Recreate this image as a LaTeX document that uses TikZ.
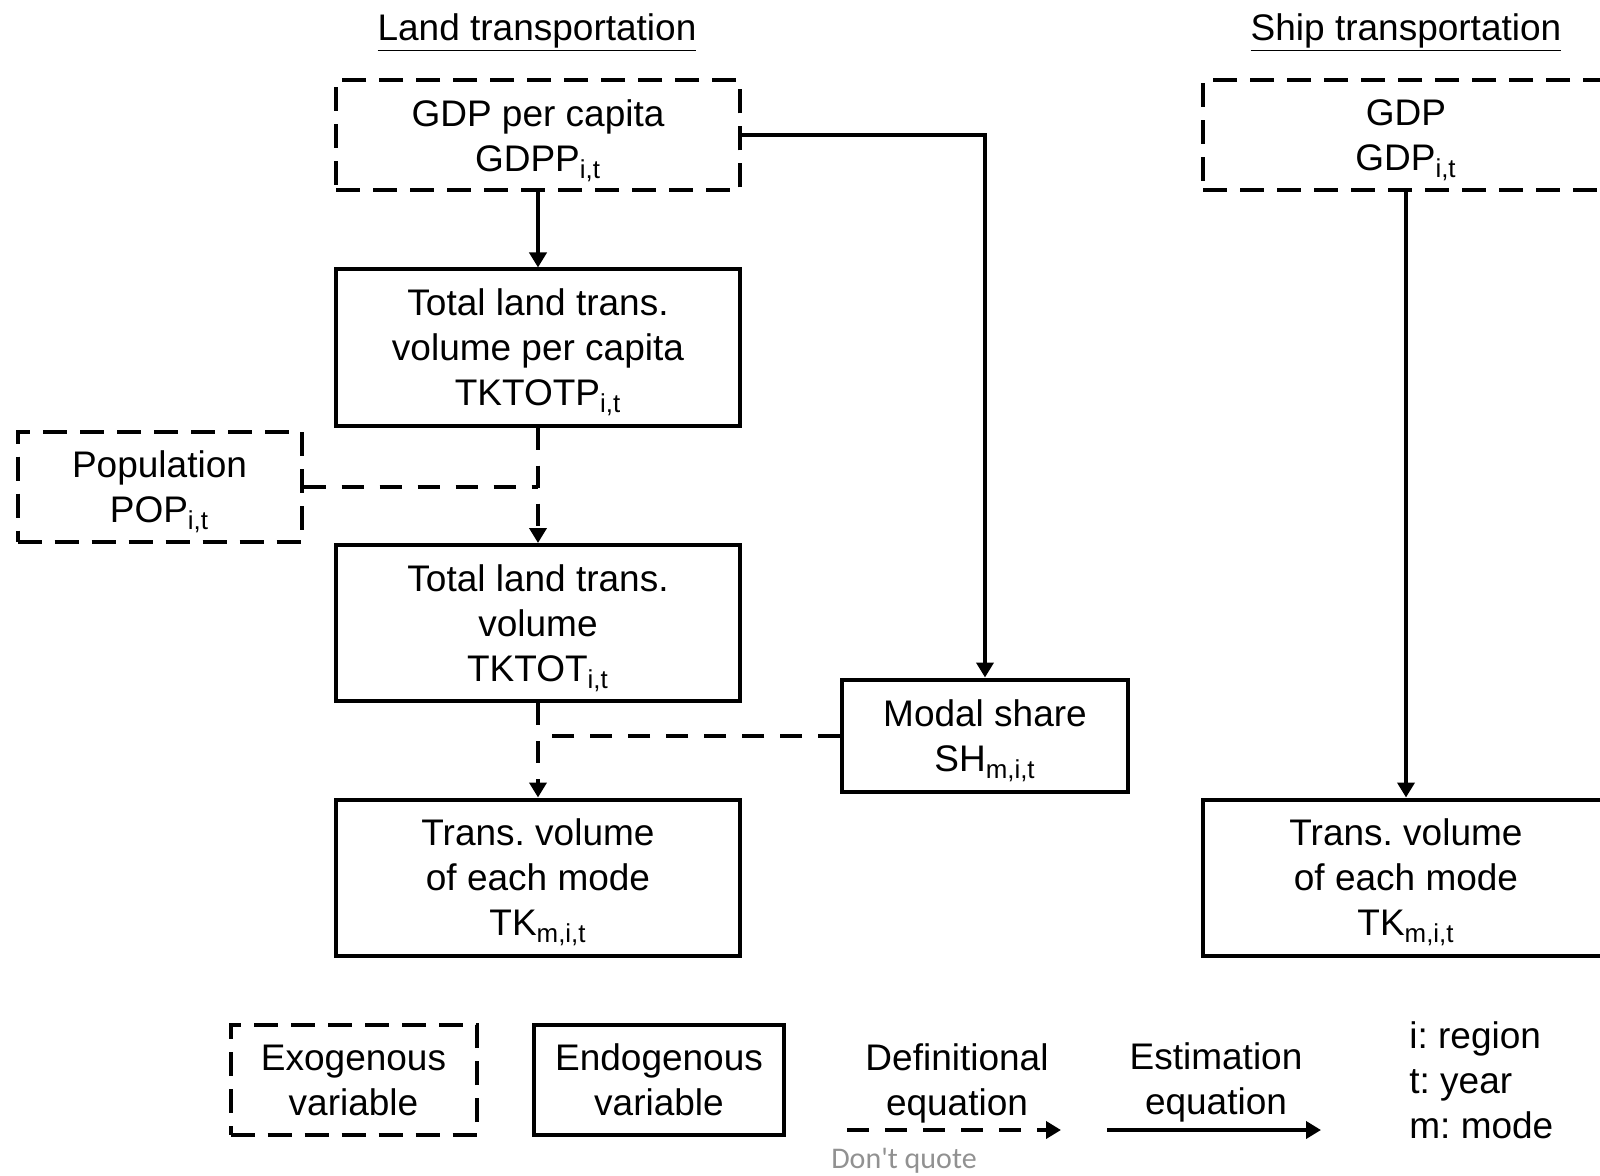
\documentclass[tikz,border=0pt]{standalone}
\usepackage{fontspec}
\setmainfont{Liberation Sans}
\newfontfamily\notefont{Carlito}
\usetikzlibrary{arrows.meta}
\frenchspacing

\begin{document}
\begin{tikzpicture}[x = 0.5pt , y = -0.5pt ,
    txt/.style = {align = center , inner sep = 0pt , text depth = 0pt , font = \fontsize{18.5}{22.5}\selectfont},
    endobox/.style = {txt , draw , line width = 2pt},
    exobox/.style = {endobox , dash pattern = on 12pt off 6.5pt},
    defl/.style = {line width = 2pt , dash pattern = on 11pt off 8pt},
    estl/.style = {line width = 2pt},
    arr/.style = {-{Triangle[length = 7.5pt , width = 8.5pt]}}]
    \useasboundingbox (0,0) rectangle (1600,1176);
    \clip (0,0) rectangle (1600,1176);

    % Τίτλοι
    \node[txt] (landt) at (537,27) {\underline{Land transportation}};
    \node[txt] (shipt) at (1406,27) {\underline{Ship transportation}};

    % Χερσαίες μεταφορές
    \node[exobox , minimum width = 202pt , minimum height = 55pt] (gdpp) at (538,135.5) {GDP per capita\\GDPP\textsubscript{i,t}};
    \node[endobox , minimum width = 202pt , minimum height = 78pt] (tktotp) at (538,347.5) {Total land trans.\\volume per capita\\TKTOTP\textsubscript{i,t}};
    \node[exobox , minimum width = 142pt , minimum height = 55pt] (pop) at (159.5,486.5) {Population\\POP\textsubscript{i,t}};
    \node[endobox , minimum width = 202pt , minimum height = 78pt] (tktot) at (538,623) {Total land trans.\\volume\\TKTOT\textsubscript{i,t}};
    \node[endobox , minimum width = 143pt , minimum height = 56pt] (modal) at (985,735.5) {Modal share\\SH\textsubscript{m,i,t}};
    \node[endobox , minimum width = 202pt , minimum height = 78pt] (tk) at (538,877.5) {Trans. volume\\of each mode\\TK\textsubscript{m,i,t}};

    % Θαλάσσιες μεταφορές
    \node[exobox , minimum width = 203pt , minimum height = 55pt] (gdp) at (1406,135.5) {GDP\\GDP\textsubscript{i,t}};
    \node[endobox , minimum width = 203pt , minimum height = 78pt] (tkship) at (1406,877.5) {Trans. volume\\of each mode\\TK\textsubscript{m,i,t}};

    % Συνδέσεις
    \draw[estl , arr] (gdpp) -- (tktotp);
    \draw[estl , arr] (gdpp.east) -| (modal.north);
    \draw[defl , arr] (tktotp) -- (tktot);
    \draw[defl] (pop.east) -- (pop.east -| tktotp.south);
    \draw[defl , arr] (tktot) -- (tk);
    \draw[defl] (modal.west) -- (modal.west -| tktot.south);
    \draw[estl , arr] (gdp) -- (tkship);

    % Υπόμνημα
    \node[exobox , minimum width = 123pt , minimum height = 55pt] (exo) at (353.5,1080) {Exogenous\\variable};
    \node[endobox , minimum width = 125pt , minimum height = 55pt] (endo) at (659,1080) {Endogenous\\variable};
    \node[txt] (defn) at (957,1080) {Definitional\\equation};
    \node[txt] (estn) at (1216,1079) {Estimation\\equation};
    \coordinate (d1) at (847,1130);
    \coordinate (d2) at (1061,1130);
    \coordinate (e1) at (1107,1130);
    \coordinate (e2) at (1321,1130);
    \draw[defl , arr] (d1) -- (d2);
    \draw[estl , arr] (e1) -- (e2);
    \node[txt , align = left , anchor = west] (idx) at (1409,1080) {i: region\\t: year\\m: mode};
    \node[inner sep = 0pt , text depth = 0pt , text = black!43 , font = \notefont\fontsize{15}{18}\selectfont] (note) at (904,1158) {Don't quote};
\end{tikzpicture}
\end{document}
